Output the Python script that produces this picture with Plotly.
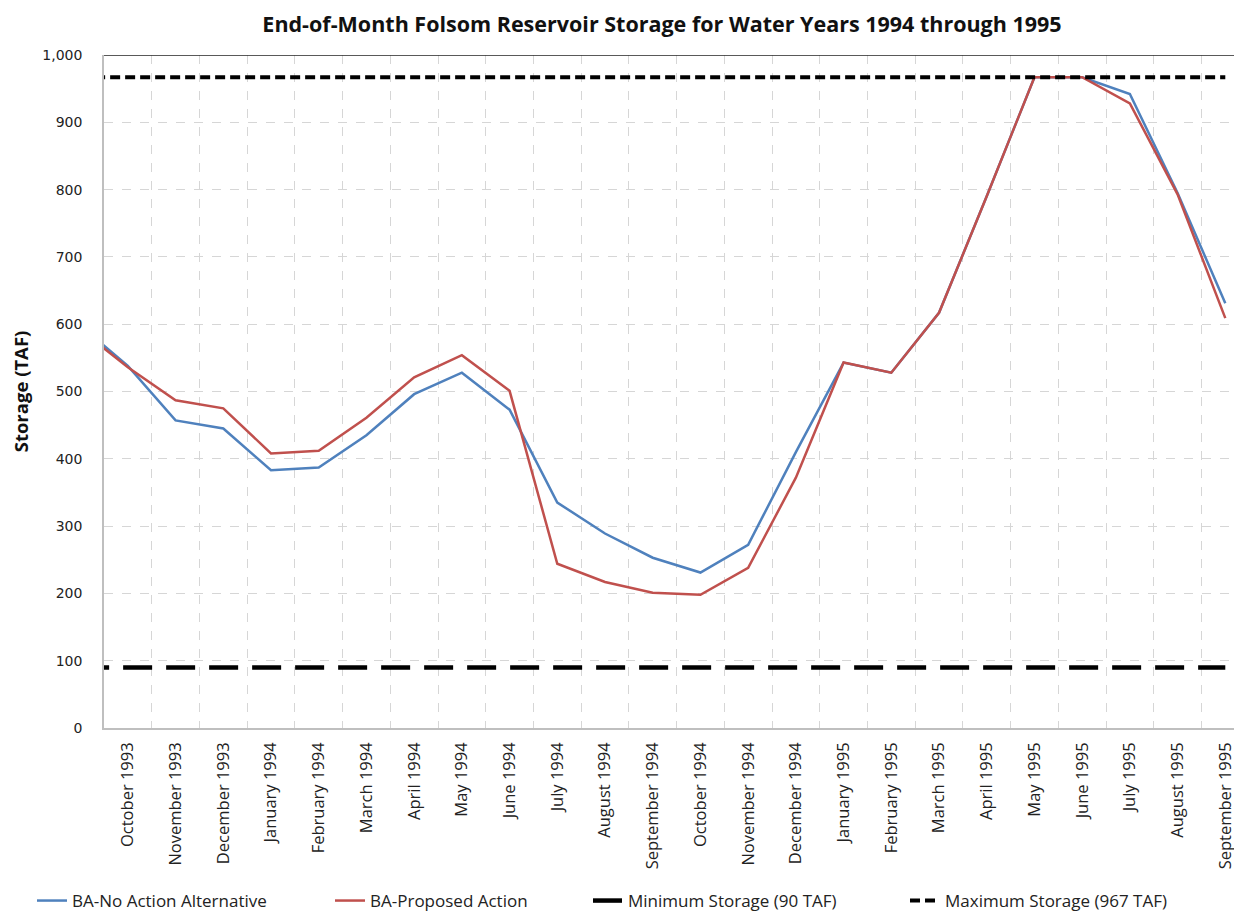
import plotly.graph_objects as go

months = ["September 1993",
          "October 1993", "November 1993", "December 1993", "January 1994", "February 1994",
          "March 1994", "April 1994", "May 1994", "June 1994", "July 1994", "August 1994",
          "September 1994", "October 1994", "November 1994", "December 1994", "January 1995",
          "February 1995", "March 1995", "April 1995", "May 1995", "June 1995", "July 1995",
          "August 1995", "September 1995"]

no_action = [598, 538, 457, 445, 383, 387, 435, 496, 528, 473, 335, 289, 253,
             231, 272, 410, 543, 528, 617, 790, 967, 967, 942, 795, 631]
proposed = [592, 536, 487, 475, 408, 412, 461, 521, 554, 501, 244, 217, 201,
            198, 238, 372, 543, 528, 617, 790, 967, 967, 928, 793, 609]
min_storage = [90] * len(months)
max_storage = [967] * len(months)

tick_values = list(range(0, 1001, 100))

fig = go.Figure()
fig.add_trace(go.Scatter(x=months, y=no_action, mode="lines", name="BA-No Action Alternative",
                         line=dict(color="#4F81BD", width=2.5), legend="legend"))
fig.add_trace(go.Scatter(x=months, y=proposed, mode="lines", name="BA-Proposed Action",
                         line=dict(color="#C0504D", width=2.5), legend="legend2"))
fig.add_trace(go.Scatter(x=months, y=min_storage, mode="lines", name="Minimum Storage (90 TAF)",
                         line=dict(color="black", width=4.5, dash="29px,14px"), legend="legend3"))
fig.add_trace(go.Scatter(x=months, y=max_storage, mode="lines", name="Maximum Storage (967 TAF)",
                         line=dict(color="black", width=4, dash="10px,5px"), legend="legend4"))

# page has an 8px body margin, so the figure is sized/positioned to compensate
OFF = 8
W, H = 1242 - OFF, 916 - OFF
leg_font = dict(family="Open Sans", size=17, color="#222")
def leg(px):
    return dict(x=px / W, xref="container", y=1 - (901 - OFF) / H, yref="container",
                xanchor="left", yanchor="middle", orientation="h",
                font=leg_font, bgcolor="rgba(0,0,0,0)", itemwidth=30)

fig.update_layout(
    width=W, height=H,
    margin=dict(l=104 - OFF, r=0, t=55 - OFF, b=H - (55 - OFF) - 673),
    paper_bgcolor="white", plot_bgcolor="white",
    title=dict(text="<b>End-of-Month Folsom Reservoir Storage for Water Years 1994 through 1995</b>",
               x=(662 - OFF) / W, xref="container", y=1 - (24 - OFF) / H, yref="container",
               xanchor="center", yanchor="middle",
               font=dict(family="Open Sans", size=21.5, color="#111")),
    legend=leg(24), legend2=leg(322), legend3=leg(580), legend4=leg(897),
    showlegend=True,
)

fig.update_xaxes(type="category", range=[0.5, 24.35], tickson="boundaries",
                 tickangle=-90, ticks="", ticklabelstandoff=6, automargin=False,
                 tickfont=dict(family="Open Sans", size=16.5, color="#222"),
                 showgrid=True, gridcolor="#D6D6D6", griddash="dash", gridwidth=1,
                 showline=True, linecolor="#BFBFBF", linewidth=1.5, zeroline=False)
fig.update_yaxes(range=[0, 1000], tickvals=tick_values, tickformat=",", ticks="",
                 ticklabelstandoff=17, automargin=False,
                 tickfont=dict(family="DejaVu Sans", size=14, color="#222"),
                 showgrid=True, gridcolor="#D6D6D6", griddash="dash", gridwidth=1,
                 showline=True, linecolor="#BFBFBF", linewidth=1.5, zeroline=False,
                 title=dict(text="<b>Storage (TAF)</b>", standoff=12,
                            font=dict(family="Open Sans", size=18.5, color="#111")))

fig.add_shape(type="line", xref="paper", yref="y", x0=0, x1=1, y0=1000, y1=1000,
              line=dict(color="#222", width=1.5))

fig.write_html("out.html")
